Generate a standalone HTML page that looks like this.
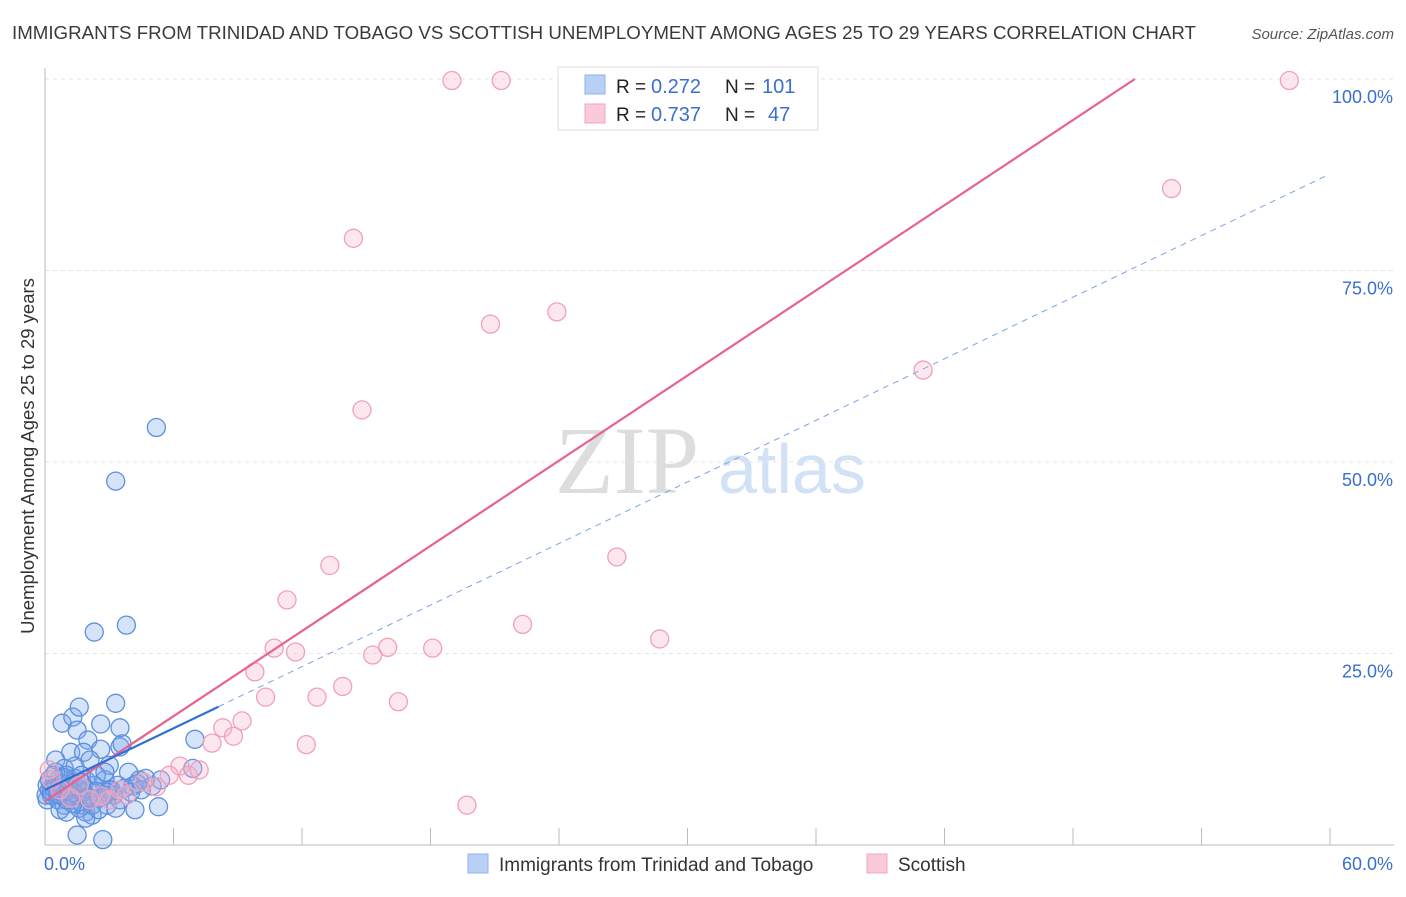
<!DOCTYPE html>
<html><head><meta charset="utf-8"><style>
body{margin:0;background:#fff;font-family:"Liberation Sans",sans-serif}
</style></head><body>
<svg width="1406" height="892" xmlns="http://www.w3.org/2000/svg" font-family="Liberation Sans, sans-serif">
<text x="12" y="39" font-size="18" fill="#3a3a3a" textLength="1184" lengthAdjust="spacingAndGlyphs">IMMIGRANTS FROM TRINIDAD AND TOBAGO VS SCOTTISH UNEMPLOYMENT AMONG AGES 25 TO 29 YEARS CORRELATION CHART</text>
<text x="1394" y="39" font-size="15" fill="#555" font-style="italic" text-anchor="end">Source: ZipAtlas.com</text>
<text x="555" y="493" font-size="96" font-family="Liberation Serif, serif" fill="#ddd">ZIP</text>
<text x="718" y="493" font-size="70" fill="#d2e2f6">atlas</text>
<g id="grid"></g>
<g id="axes"></g>
<g id="pts"></g>
<g id="lines"></g>
<text transform="translate(34,456) rotate(-90)" font-size="18.5" fill="#333" text-anchor="middle">Unemployment Among Ages 25 to 29 years</text>
<g>
<rect x="558" y="67" width="260" height="63" fill="#fff" stroke="#ddd"/>
<rect x="585" y="75" width="20" height="19" fill="#b8d0f5" stroke="#8fb2ea"/>
<rect x="585" y="104" width="20" height="19" fill="#fbcad8" stroke="#f2a6bd"/>
<text x="616" y="93" font-size="19" fill="#222">R =</text>
<text x="651" y="93" font-size="20" fill="#3a6fd0">0.272</text>
<text x="725" y="93" font-size="19" fill="#222">N =</text>
<text x="762" y="93" font-size="20" fill="#3a6fd0">101</text>
<text x="616" y="121" font-size="19" fill="#222">R =</text>
<text x="651" y="121" font-size="20" fill="#3a6fd0">0.737</text>
<text x="725" y="121" font-size="19" fill="#222">N =</text>
<text x="768" y="121" font-size="20" fill="#3a6fd0">47</text>
</g>
<g>
<rect x="468" y="854" width="20" height="19" fill="#b8d0f5" stroke="#8fb2ea"/>
<text x="499" y="871" font-size="19" fill="#333">Immigrants from Trinidad and Tobago</text>
<rect x="867" y="854" width="20" height="19" fill="#fbcad8" stroke="#f2a6bd"/>
<text x="898" y="871" font-size="19" fill="#333">Scottish</text>
</g>
</svg>
<script>
const xTicks=[0,6,12,18,24,30,36,42,48,54,60];
const yTicks=[25,50,75,100];
const yTickLabels=["25.0%","50.0%","75.0%","100.0%"];
const blueX=[5.2,3.3,2.3,3.8,0.8,1.3,1.6,3.3,2.6,3.5,1.5,2.0,1.2,1.8,2.6,3.5,3.6,0.5,0.9,1.4,2.1,3.0,3.9,4.4,4.7,7.0,6.9,0.2,0.5,0.7,1.0,1.3,1.6,2.0,2.3,2.8,3.1,3.4,3.7,4.1,4.3,5.0,5.4,0.1,0.3,0.6,0.9,1.2,1.4,1.8,2.1,2.5,2.8,3.2,3.5,4.0,4.5,0.2,0.5,0.8,1.1,1.4,1.7,1.9,2.2,1.6,2.9,3.3,4.2,5.3,1.5,2.7,1.9,0.7,1.0,1.3,0.05,0.1,0.4,0.7,1.0,1.5,1.9,2.4,2.8,3.0,2.2,2.5,1.0,1.3,1.8,0.4,0.8,2.4,2.9,0.3,0.6,1.1,1.7,2.0,0.9];
const blueY=[54.5,47.5,27.8,28.7,15.9,16.7,18.0,18.5,15.8,15.3,15.0,13.7,12.1,12.1,12.5,12.8,13.2,11.1,10.0,10.3,11.1,10.4,9.5,8.5,8.7,13.8,10.0,7.2,7.8,8.7,9.1,8.1,7.2,7.2,7.8,8.5,7.2,7.8,7.4,7.7,8.0,7.7,8.5,5.9,6.5,5.9,5.2,6.1,5.9,5.2,5.9,6.1,6.5,6.5,5.9,6.9,7.2,8.5,9.5,7.2,7.2,8.7,9.1,4.3,3.9,4.8,5.2,4.8,4.6,5.0,1.3,0.7,3.5,4.6,4.3,5.4,6.5,7.8,9.1,6.5,5.9,6.5,8.5,9.1,9.5,7.2,5.2,4.6,7.0,6.8,6.9,7.4,8.0,7.0,6.9,7.0,6.6,7.5,8.2,6.2,8.8];
const pinkX=[19.0,21.3,26.0,58.1,52.6,14.4,20.8,23.9,41.0,14.8,26.7,13.3,11.3,22.3,28.7,10.7,11.7,16.0,18.1,15.3,9.8,13.9,10.3,12.7,16.5,9.2,8.3,8.8,7.8,12.2,6.3,5.8,6.7,7.2,5.2,4.6,19.7,0.2,0.7,1.2,2.1,2.6,3.0,3.8,0.3,1.6,3.5];
const pinkY=[99.8,99.8,99.8,99.8,85.7,79.2,68.0,69.6,62.0,56.8,37.6,36.5,32.0,28.8,26.9,25.7,25.2,25.8,25.7,24.8,22.6,20.7,19.3,19.3,18.7,16.2,15.3,14.2,13.3,13.1,10.3,9.1,9.1,9.8,7.6,8.2,5.2,9.8,7.2,6.1,5.9,6.4,5.9,6.5,8.5,7.8,7.2];
const blueTrend=[7.2,1.34]; const pinkTrend=[5.7,1.853];
const X=v=>45+v*21.417, Y=v=>845-v*7.66;
const NS="http://www.w3.org/2000/svg";
function mk(t,a,p){const e=document.createElementNS(NS,t);for(const k in a)e.setAttribute(k,a[k]);p.appendChild(e);return e;}
const grid=document.getElementById('grid'),axes=document.getElementById('axes'),pts=document.getElementById('pts'),lines=document.getElementById('lines');
yTicks.forEach((v,i)=>{const l=mk('line',{x1:45,x2:1394,y1:Y(v),y2:Y(v),stroke:'#e4e4e4','stroke-dasharray':'4,4'},grid);


const t=mk('text',{x:1393,y:Y(v)+24,'text-anchor':'end','font-size':18,fill:'#3a6fd0'},axes);t.textContent=yTickLabels[i];

});
const ax=mk('line',{x1:45,x2:45,y1:68,y2:845,stroke:'#bbb'},axes);


const bx=mk('line',{x1:45,x2:1394,y1:845,y2:845,stroke:'#bbb'},axes);


xTicks.forEach(v=>{const t=mk('line',{x1:X(v),x2:X(v),y1:828,y2:845,stroke:'#bbb'},axes);

});
const x0=mk('text',{x:44,y:870,'font-size':18,fill:'#3a6fd0'},axes);x0.textContent='0.0%';


const x1=mk('text',{x:1393,y:870,'font-size':18,fill:'#3a6fd0','text-anchor':'end'},axes);x1.textContent='60.0%';


blueX.forEach((v,i)=>{const c=mk('circle',{cx:X(v),cy:Y(blueY[i]),r:9,fill:'rgba(120,165,235,0.3)',stroke:'#5d8fe0','stroke-width':1.3},pts);

});
pinkX.forEach((v,i)=>{const c=mk('circle',{cx:X(v),cy:Y(pinkY[i]),r:9,fill:'rgba(248,175,200,0.3)',stroke:'#f0a0ba','stroke-width':1.3},pts);

});
const bf=v=>blueTrend[0]+blueTrend[1]*v, pf=v=>pinkTrend[0]+pinkTrend[1]*v;
const bd=mk('line',{x1:X(8.1),y1:Y(bf(8.1)),x2:X(59.8),y2:Y(bf(59.8)),stroke:'#7aa3e3','stroke-width':1,'stroke-dasharray':'6,5'},lines);


const pxEnd=(100-pinkTrend[0])/pinkTrend[1];
const pl=mk('line',{x1:X(0),y1:Y(pf(0)),x2:X(pxEnd),y2:Y(100),stroke:'#e8628f','stroke-width':2.2},lines);


const bs=mk('line',{x1:X(0),y1:Y(bf(0)),x2:X(8.1),y2:Y(bf(8.1)),stroke:'#2f6fd6','stroke-width':2.2},lines);


</script>
</body></html>
